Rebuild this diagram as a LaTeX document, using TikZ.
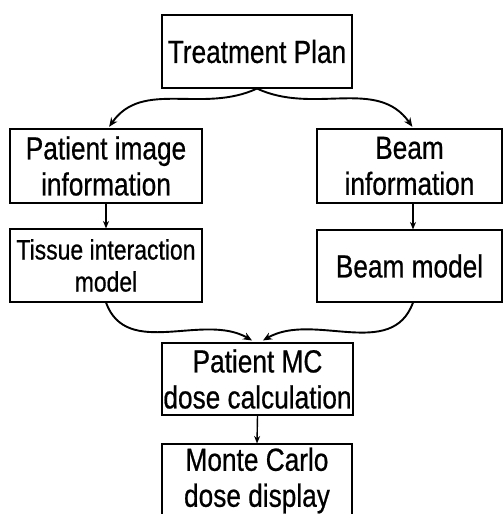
\documentclass[tikz,border=0pt]{standalone}
\usepackage{fontspec}
\setmainfont{Liberation Sans}[FakeStretch=0.82, FakeBold=0.6]
\usetikzlibrary{arrows.meta}
\begin{document}
\begin{tikzpicture}[x=1pt,y=-1pt,
  stagebox/.style={draw=black, line width=1.1pt, inner sep=0pt, align=center,
    font=\fontsize{32}{36}\selectfont},
  flow/.style={line width=1.9pt, -{Stealth[length=9pt,width=7.5pt]}},
  link/.style={line width=1.4pt, -{Stealth[length=7.5pt,width=6pt]}}]
  \useasboundingbox (0,0) rectangle (503,514);
  \clip (0,0) rectangle (503,514);

  % stages of the workflow
  \node[stagebox, minimum width=190pt, minimum height=73pt] (tp) at (257,51.5) {Treatment Plan};
  \node[stagebox, minimum width=192pt, minimum height=74pt] (pii) at (106,166) {Patient image\\information};
  \node[stagebox, minimum width=185pt, minimum height=74pt] (bi) at (409.5,166) {Beam\\information};
  \node[stagebox, minimum width=192pt, minimum height=73pt,
        font=\fontsize{28}{32}\selectfont] (tim) at (106,265.5) {Tissue interaction\\model};
  \node[stagebox, minimum width=185pt, minimum height=72pt] (bm) at (409.5,266) {Beam model};
  \node[stagebox, minimum width=191pt, minimum height=72pt] (mc) at (257.5,379) {Patient MC\\dose calculation};
  \node[stagebox, minimum width=190pt, minimum height=73pt] (mcd) at (257,480.5) {Monte Carlo\\dose display};

  % branching from the plan
  \draw[flow, shorten >=2pt] (tp.south) to[out=205, in=55] ([xshift=2pt]pii.north);
  \draw[flow, shorten >=2pt] (tp.south) to[out=-25, in=125] ([xshift=4pt]bi.north);

  % straight links inside each branch
  \draw[link] (pii.south) -- (tim.north);
  \draw[link] ([xshift=3.5pt]bi.south) -- ([xshift=3.5pt]bm.north);

  % merging into the dose calculation
  \draw[flow, shorten >=4pt] (tim.south) to[out=-70, in=150] ([xshift=-2pt]mc.north);
  \draw[flow, shorten >=4pt] ([xshift=3.5pt]bm.south) to[out=-110, in=30] ([xshift=2pt]mc.north);

  \draw[link] (mc.south) -- (mcd.north);
\end{tikzpicture}
\end{document}
